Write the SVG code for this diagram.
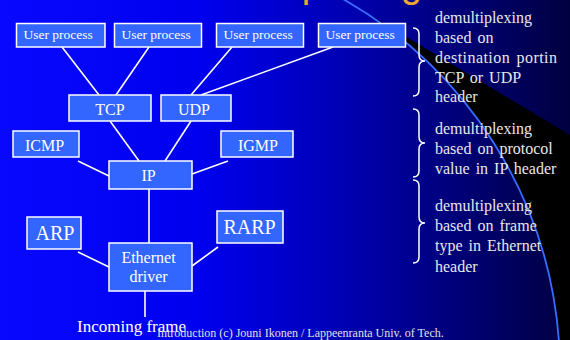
<svg xmlns="http://www.w3.org/2000/svg" width="570" height="340" viewBox="0 0 570 340">
<defs>
<linearGradient id="bg" x1="0" y1="0" x2="1" y2="0">
<stop offset="0" stop-color="#0808ff"/>
<stop offset="0.35" stop-color="#0000ee"/>
<stop offset="0.6" stop-color="#0000b4"/>
<stop offset="0.8" stop-color="#000078"/>
<stop offset="1" stop-color="#000040"/>
</linearGradient>
<style>
.box{fill:#3366ff;stroke:#ffffff;stroke-width:1.5}
.lbl{font-family:"Liberation Serif","Times New Roman",serif;fill:#ffffff}
.up{font-size:13.5px}
.mid{font-size:16px;text-anchor:middle}
.big{font-size:20px;text-anchor:middle}
.con line{stroke:#ffffff;stroke-width:1.6;fill:none}
.note{font-family:"Liberation Serif","Times New Roman",serif;font-size:16px;fill:#e8e8e8;word-spacing:2px}
.brace{fill:none;stroke:#ffffff;stroke-width:1.5}
</style>
</defs>
<g id="background">
<rect x="0" y="0" width="570" height="340" fill="url(#bg)"/>
<path d="M345,0 L570,135 L570,340 L559,340 A429,429 0 0 0 345,0 Z" fill="#000000"/>
<path d="M339.4,-3 A429,429 0 0 1 559.2,345" fill="none" stroke="#3a6cff" stroke-width="1.8"/>
<text x="173" y="-3" font-family="'Liberation Sans',Arial,sans-serif" font-size="38" fill="#f0a830">Demultiplexing</text>
</g>
<g id="connectors" class="con">
<line x1="62" y1="47" x2="99" y2="95"/>
<line x1="149" y1="47" x2="116" y2="95"/>
<line x1="232" y1="47" x2="191" y2="95"/>
<line x1="333" y1="47" x2="201" y2="95"/>
<line x1="110" y1="121" x2="139" y2="161"/>
<line x1="191" y1="121" x2="165" y2="161"/>
<line x1="78" y1="161" x2="109" y2="176"/>
<line x1="228" y1="161" x2="192" y2="174"/>
<line x1="149" y1="189" x2="149" y2="243"/>
<line x1="78" y1="252" x2="109" y2="267"/>
<line x1="218" y1="247" x2="192" y2="266"/>
<line x1="145" y1="291" x2="145" y2="317"/>
</g>
<g id="user1"><rect class="box" x="16.5" y="23.5" width="88.5" height="23.5"/><text class="lbl up" x="23.5" y="39">User process</text></g>
<g id="user2"><rect class="box" x="114.5" y="23.5" width="87" height="23.5"/><text class="lbl up" x="121.5" y="39">User process</text></g>
<g id="user3"><rect class="box" x="216.5" y="23.5" width="87" height="23.5"/><text class="lbl up" x="223.5" y="39">User process</text></g>
<g id="user4"><rect class="box" x="318.5" y="23.5" width="87" height="23.5"/><text class="lbl up" x="325.5" y="39">User process</text></g>
<g id="tcp"><rect class="box" x="69" y="95" width="82" height="26"/><text class="lbl mid" x="110" y="115">TCP</text></g>
<g id="udp"><rect class="box" x="161" y="95" width="70" height="26"/><text class="lbl mid" x="194" y="115">UDP</text></g>
<g id="icmp"><rect class="box" x="13" y="131" width="66" height="26"/><text class="lbl mid" x="44.5" y="151">ICMP</text></g>
<g id="igmp"><rect class="box" x="221" y="131" width="72" height="26"/><text class="lbl mid" x="258" y="151">IGMP</text></g>
<g id="ip"><rect class="box" x="109" y="161" width="83" height="28"/><text class="lbl mid" x="148.5" y="181">IP</text></g>
<g id="arp"><rect class="box" x="27" y="217" width="54" height="32"/><text class="lbl big" x="55" y="240">ARP</text></g>
<g id="rarp"><rect class="box" x="217" y="211" width="66" height="32"/><text class="lbl big" x="249.5" y="234">RARP</text></g>
<g id="ethernet"><rect class="box" x="109" y="243" width="83" height="48"/><text class="lbl mid" x="148.5" y="263">Ethernet</text><text class="lbl mid" x="148.5" y="282">driver</text></g>
<g id="incoming"><text class="lbl" x="77" y="332" font-size="17">Incoming frame</text></g>
<g id="notes">
<path class="brace" d="M413,28 Q419,28 419,34 L419,55 Q419,61 425,61 Q419,61 419,67 L419,90 Q419,96 413,96"/>
<path class="brace" d="M413,109 Q419,109 419,115 L419,137 Q419,143 425,143 Q419,143 419,149 L419,171 Q419,177 413,177"/>
<path class="brace" d="M413,180 Q419,180 419,186 L419,217 Q419,223 425,223 Q419,223 419,229 L419,257 Q419,263 413,263"/>
<text class="note" x="435" y="23">demultiplexing</text>
<text class="note" x="435" y="43">based on</text>
<text class="note" x="435" y="63" textLength="122" lengthAdjust="spacing" word-spacing="0">destination portin</text>
<text class="note" x="435" y="83">TCP or UDP</text>
<text class="note" x="435" y="102">header</text>
<text class="note" x="435" y="134">demultiplexing</text>
<text class="note" x="435" y="154">based on protocol</text>
<text class="note" x="435" y="174">value in IP header</text>
<text class="note" x="435" y="211">demultiplexing</text>
<text class="note" x="435" y="231">based on frame</text>
<text class="note" x="435" y="251">type in Ethernet</text>
<text class="note" x="435" y="272">header</text>
</g>
<g id="footer"><text x="157" y="337" font-family="'Liberation Serif','Times New Roman',serif" font-size="12" fill="#e0e0e0">Introduction (c) Jouni Ikonen / Lappeenranta Univ. of Tech.</text></g>
</svg>
